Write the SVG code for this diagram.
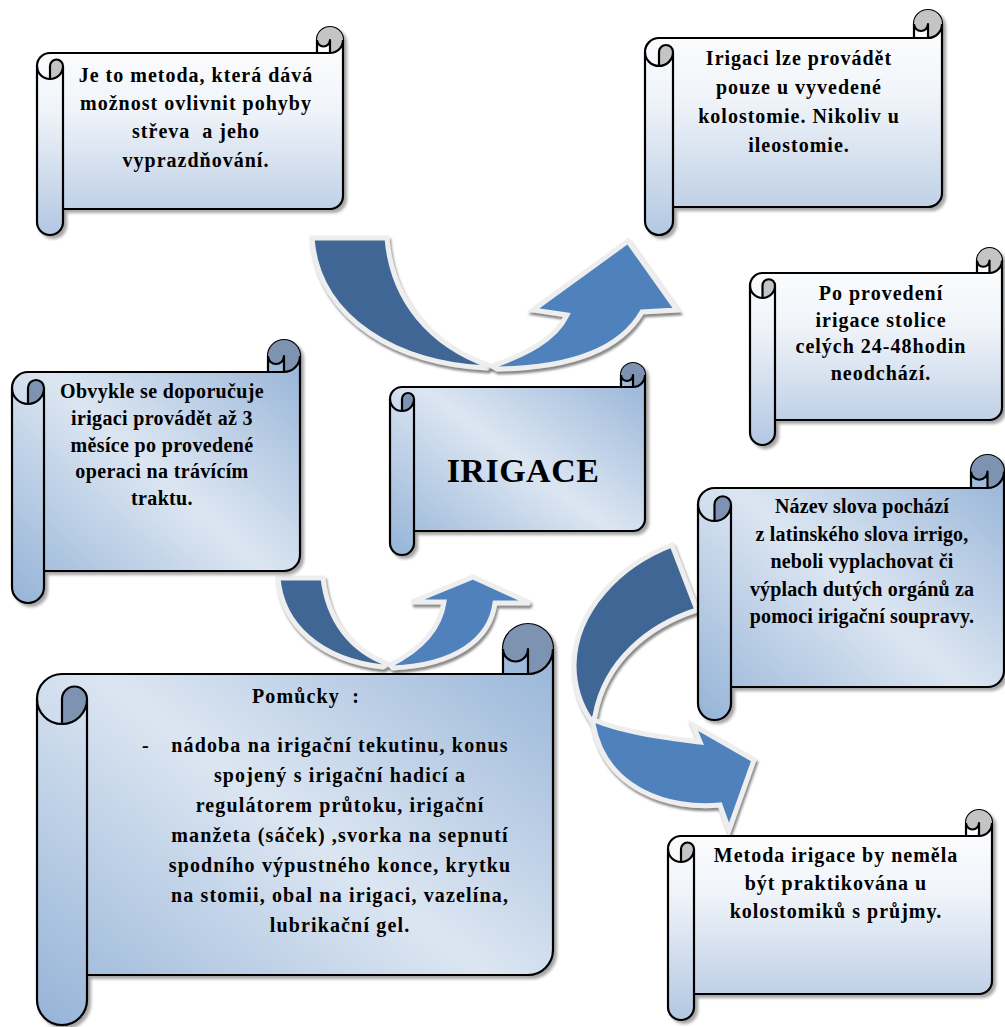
<svg xmlns="http://www.w3.org/2000/svg" width="1005" height="1027" viewBox="0 0 1005 1027">
<defs>
  <linearGradient id="gw" x1="0" y1="0" x2="0" y2="1">
    <stop offset="0" stop-color="#ffffff"/>
    <stop offset="0.4" stop-color="#f0f4f9"/>
    <stop offset="1" stop-color="#b3c7e2"/>
  </linearGradient>
  <linearGradient id="gb" x1="1" y1="0" x2="0" y2="1">
    <stop offset="0" stop-color="#93b1d6"/>
    <stop offset="0.5" stop-color="#dce6f2"/>
    <stop offset="1" stop-color="#95b3d7"/>
  </linearGradient>
  <filter id="sh" x="-10%" y="-10%" width="120%" height="120%">
    <feDropShadow dx="3" dy="3" stdDeviation="1.5" flood-color="#000" flood-opacity="0.35"/>
  </filter>
  <filter id="ash" x="-10%" y="-10%" width="125%" height="125%">
    <feDropShadow dx="1.5" dy="3" stdDeviation="1.2" flood-color="#6d6d6d" flood-opacity="0.8"/>
  </filter>
  <style>
    .bw { fill: url(#gw); stroke: #000; stroke-width: 2.2; stroke-linejoin: round; filter: url(#sh); }
    .bb { fill: url(#gb); stroke: #000; stroke-width: 2.2; stroke-linejoin: round; filter: url(#sh); }
    .dw { fill: #c4c4c4; }
    .db { fill: #7d93b1; }
    .ol { fill: none; stroke: #000; stroke-width: 2.2; stroke-linejoin: round; }
    .t { font-family: "Liberation Serif", "Times New Roman", serif; font-weight: bold; font-size: 20px; letter-spacing: 1px; fill: #000; text-anchor: middle; }
    .n4 .t { letter-spacing: 0.35px; }
    .n6 .t { letter-spacing: 0.15px; }
    .n7 .t { letter-spacing: 1.15px; }
    .ad { fill: #3f6696; stroke: #eeeeee; stroke-width: 5; filter: url(#ash); }
    .al { fill: #4f81bd; stroke: #eeeeee; stroke-width: 5; filter: url(#ash); }
  </style>
</defs>

<g id="connectors">
  <g id="arrow-top">
    <path class="ad" d="M 312,238 L 387,238 C 392,300 430,345 490,366 L 487,368 C 400,365 318,320 312,238 Z"/>
    <path class="al" d="M 492,366 C 525,355 555,340 567,315 L 533,310 L 628,241 L 677,310 L 642,312 C 620,350 570,368 497,369 Z"/>
  </g>
  <g id="arrow-mid">
    <path class="ad" d="M 278,578 L 323,578 C 328,620 350,650 388,664 L 383,667 C 320,660 282,625 278,578 Z"/>
    <path class="al" d="M 390,665 C 420,650 440,630 444,602 L 412,602 L 473,577 L 530,603 L 495,603 C 490,640 455,665 393,668 Z"/>
  </g>
  <g id="arrow-right">
    <path class="ad" d="M 672,545 L 697,610 C 650,625 605,660 595,716 L 592,722 C 582,708 574,690 574,665 C 575,610 620,565 672,545 Z"/>
    <path class="al" d="M 594,720 C 625,733 670,738 700,742 L 693,725 L 754,760 L 729,830 L 720,805 C 670,810 605,790 593,724 Z"/>
  </g>
</g>

<g id="node-metoda-popis">
  <path class="bw" d="M 37,66 A 13 13 0 0 1 50,53 L 317,53 L 317,40 A 13 13 0 0 1 343,40 L 343,196 A 13 13 0 0 1 330,209 L 63,209 L 63,222 A 13 13 0 0 1 37,222 Z"/>
  <path class="dw" d="M 330,53 A 13 13 0 1 0 317,40 A 6.5 6.5 0 0 0 330,40 Z M 50,79 A 13 13 0 0 0 63,66 A 6.5 6.5 0 0 0 50,66 Z"/>
  <path class="ol" d="M 317,53 L 330,53 A 13 13 0 0 0 343,40 M 330,53 L 330,40 A 6.5 6.5 0 0 1 317,40 M 50,79 L 50,66 A 6.5 6.5 0 0 1 63,66 A 13 13 0 0 1 37,66 M 63,66 L 63,209"/>
  <text class="t" x="196" y="82">Je to metoda, která dává</text>
  <text class="t" x="196" y="110">možnost ovlivnit pohyby</text>
  <text class="t" x="196" y="138" xml:space="preserve">střeva  a jeho</text>
  <text class="t" x="196" y="167">vyprazdňování.</text>
</g>

<g id="node-kolostomie">
  <path class="bw" d="M 645,52 A 14 14 0 0 1 659,38 L 914,38 L 914,24 A 14 14 0 0 1 942,24 L 942,193 A 14 14 0 0 1 928,207 L 673,207 L 673,221 A 14 14 0 0 1 645,221 Z"/>
  <path class="dw" d="M 928,38 A 14 14 0 1 0 914,24 A 7 7 0 0 0 928,24 Z M 659,66 A 14 14 0 0 0 673,52 A 7 7 0 0 0 659,52 Z"/>
  <path class="ol" d="M 914,38 L 928,38 A 14 14 0 0 0 942,24 M 928,38 L 928,24 A 7 7 0 0 1 914,24 M 659,66 L 659,52 A 7 7 0 0 1 673,52 A 14 14 0 0 1 645,52 M 673,52 L 673,207"/>
  <text class="t" x="799" y="65">Irigaci lze provádět</text>
  <text class="t" x="799" y="94">pouze u vyvedené</text>
  <text class="t" x="799" y="123">kolostomie. Nikoliv u</text>
  <text class="t" x="799" y="152">ileostomie.</text>
</g>

<g id="node-stolice">
  <path class="bw" d="M 750,285.5 A 12.5 12.5 0 0 1 762.5,273 L 977,273 L 977,260.5 A 12.5 12.5 0 0 1 1002,260.5 L 1002,407.5 A 12.5 12.5 0 0 1 989.5,420 L 775,420 L 775,432.5 A 12.5 12.5 0 0 1 750,432.5 Z"/>
  <path class="dw" d="M 989.5,273 A 12.5 12.5 0 1 0 977,260.5 A 6.25 6.25 0 0 0 989.5,260.5 Z M 762.5,298 A 12.5 12.5 0 0 0 775,285.5 A 6.25 6.25 0 0 0 762.5,285.5 Z"/>
  <path class="ol" d="M 977,273 L 989.5,273 A 12.5 12.5 0 0 0 1002,260.5 M 989.5,273 L 989.5,260.5 A 6.25 6.25 0 0 1 977,260.5 M 762.5,298 L 762.5,285.5 A 6.25 6.25 0 0 1 775,285.5 A 12.5 12.5 0 0 1 750,285.5 M 775,285.5 L 775,420"/>
  <text class="t" x="881" y="300">Po provedení</text>
  <text class="t" x="881" y="327">irigace stolice</text>
  <text class="t" x="881" y="353">celých 24-48hodin</text>
  <text class="t" x="881" y="380">neodchází.</text>
</g>

<g id="node-doporuceni" class="n4">
  <path class="bb" d="M 12,388 A 16 16 0 0 1 28,372 L 268,372 L 268,356 A 16 16 0 0 1 300,356 L 300,555 A 16 16 0 0 1 284,571 L 44,571 L 44,587 A 16 16 0 0 1 12,587 Z"/>
  <path class="db" d="M 284,372 A 16 16 0 1 0 268,356 A 8 8 0 0 0 284,356 Z M 28,404 A 16 16 0 0 0 44,388 A 8 8 0 0 0 28,388 Z"/>
  <path class="ol" d="M 268,372 L 284,372 A 16 16 0 0 0 300,356 M 284,372 L 284,356 A 8 8 0 0 1 268,356 M 28,404 L 28,388 A 8 8 0 0 1 44,388 A 16 16 0 0 1 12,388 M 44,388 L 44,571"/>
  <text class="t" x="162" y="398">Obvykle se doporučuje</text>
  <text class="t" x="162" y="425">irigaci provádět až 3</text>
  <text class="t" x="162" y="452">měsíce po provedené</text>
  <text class="t" x="162" y="478">operaci na trávícím</text>
  <text class="t" x="162" y="505">traktu.</text>
</g>

<g id="node-irigace">
  <path class="bb" d="M 390,399 A 12 12 0 0 1 402,387 L 621,387 L 621,375 A 12 12 0 0 1 645,375 L 645,519 A 12 12 0 0 1 633,531 L 414,531 L 414,543 A 12 12 0 0 1 390,543 Z"/>
  <path class="db" d="M 633,387 A 12 12 0 1 0 621,375 A 6 6 0 0 0 633,375 Z M 402,411 A 12 12 0 0 0 414,399 A 6 6 0 0 0 402,399 Z"/>
  <path class="ol" d="M 621,387 L 633,387 A 12 12 0 0 0 645,375 M 633,387 L 633,375 A 6 6 0 0 1 621,375 M 402,411 L 402,399 A 6 6 0 0 1 414,399 A 12 12 0 0 1 390,399 M 414,399 L 414,531"/>
  <text class="t" x="523" y="482" style="font-size:34px;letter-spacing:0.5px">IRIGACE</text>
</g>

<g id="node-nazev" class="n6">
  <path class="bb" d="M 698,504.5 A 16.5 16.5 0 0 1 714.5,488 L 971,488 L 971,471.5 A 16.5 16.5 0 0 1 1004,471.5 L 1004,670.5 A 16.5 16.5 0 0 1 987.5,687 L 731,687 L 731,703.5 A 16.5 16.5 0 0 1 698,703.5 Z"/>
  <path class="db" d="M 987.5,488 A 16.5 16.5 0 1 0 971,471.5 A 8.25 8.25 0 0 0 987.5,471.5 Z M 714.5,521 A 16.5 16.5 0 0 0 731,504.5 A 8.25 8.25 0 0 0 714.5,504.5 Z"/>
  <path class="ol" d="M 971,488 L 987.5,488 A 16.5 16.5 0 0 0 1004,471.5 M 987.5,488 L 987.5,471.5 A 8.25 8.25 0 0 1 971,471.5 M 714.5,521 L 714.5,504.5 A 8.25 8.25 0 0 1 731,504.5 A 16.5 16.5 0 0 1 698,504.5 M 731,504.5 L 731,687"/>
  <text class="t" x="862" y="513">Název slova pochází</text>
  <text class="t" x="862" y="541">z latinského slova irrigo,</text>
  <text class="t" x="862" y="568">neboli vyplachovat či</text>
  <text class="t" x="862" y="596">výplach dutých orgánů za</text>
  <text class="t" x="862" y="623">pomoci irigační soupravy.</text>
</g>

<g id="node-pomucky" class="n7">
  <path class="bb" d="M 37,699 A 25 25 0 0 1 62,674 L 503,674 L 503,649 A 25 25 0 0 1 553,649 L 553,950 A 25 25 0 0 1 528,975 L 87,975 L 87,1000 A 25 25 0 0 1 37,1000 Z"/>
  <path class="db" d="M 528,674 A 25 25 0 1 0 503,649 A 12.5 12.5 0 0 0 528,649 Z M 62,724 A 25 25 0 0 0 87,699 A 12.5 12.5 0 0 0 62,699 Z"/>
  <path class="ol" d="M 503,674 L 528,674 A 25 25 0 0 0 553,649 M 528,674 L 528,649 A 12.5 12.5 0 0 1 503,649 M 62,724 L 62,699 A 12.5 12.5 0 0 1 87,699 A 25 25 0 0 1 37,699 M 87,699 L 87,975"/>
  <text class="t" x="306" y="703" xml:space="preserve">Pomůcky  :</text>
  <text class="t" x="146" y="752">-</text>
  <text class="t" x="340" y="752">nádoba na irigační tekutinu, konus</text>
  <text class="t" x="340" y="782">spojený s irigační hadicí a</text>
  <text class="t" x="340" y="812">regulátorem průtoku, irigační</text>
  <text class="t" x="340" y="842">manžeta (sáček) ,svorka na sepnutí</text>
  <text class="t" x="340" y="872">spodního výpustného konce, krytku</text>
  <text class="t" x="340" y="902">na stomii, obal na irigaci, vazelína,</text>
  <text class="t" x="340" y="932">lubrikační gel.</text>
</g>

<g id="node-prujmy">
  <path class="bw" d="M 668,849 A 13 13 0 0 1 681,836 L 966,836 L 966,823 A 13 13 0 0 1 992,823 L 992,981 A 13 13 0 0 1 979,994 L 694,994 L 694,1007 A 13 13 0 0 1 668,1007 Z"/>
  <path class="dw" d="M 979,836 A 13 13 0 1 0 966,823 A 6.5 6.5 0 0 0 979,823 Z M 681,862 A 13 13 0 0 0 694,849 A 6.5 6.5 0 0 0 681,849 Z"/>
  <path class="ol" d="M 966,836 L 979,836 A 13 13 0 0 0 992,823 M 979,836 L 979,823 A 6.5 6.5 0 0 1 966,823 M 681,862 L 681,849 A 6.5 6.5 0 0 1 694,849 A 13 13 0 0 1 668,849 M 694,849 L 694,994"/>
  <text class="t" x="836" y="862">Metoda irigace by neměla</text>
  <text class="t" x="836" y="890">být praktikována u</text>
  <text class="t" x="836" y="918">kolostomiků s průjmy.</text>
</g>
</svg>
